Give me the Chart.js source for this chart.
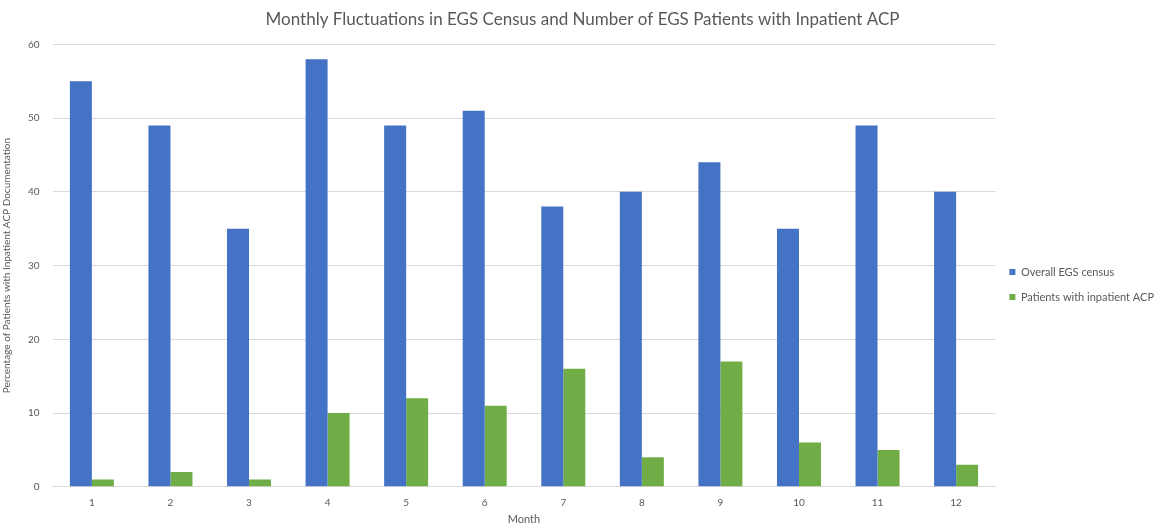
<!DOCTYPE html>
<html><head><meta charset="utf-8">
<script src="https://cdn.jsdelivr.net/npm/chart.js@4"></script>
<style>html,body{margin:0;padding:0;background:#fff}#w{width:1170px;height:529px}</style>
</head><body><div id="w"><canvas id="c"></canvas></div>
<script>
const months = ['1','2','3','4','5','6','7','8','9','10','11','12'];
const overallCensus = [55,49,35,58,49,51,38,40,44,35,49,40];
const inpatientACP = [1,2,1,10,12,11,16,4,17,6,5,3];
const seriesNames = ['Overall EGS census','Patients with inpatient ACP'];
const titleText = 'Monthly Fluctuations in EGS Census and Number of EGS Patients with Inpatient ACP';
const F = 'Lato, "Open Sans", sans-serif';
new Chart(document.getElementById('c'), {
  type: 'bar',
  data: { labels: months, datasets: [
    {label: seriesNames[0], data: overallCensus, backgroundColor: '#4472C4', categoryPercentage: 0.56, barPercentage: 1},
    {label: seriesNames[1], data: inpatientACP, backgroundColor: '#70AD47', categoryPercentage: 0.56, barPercentage: 1}
  ]},
  options: {
    responsive: true, maintainAspectRatio: false, animation: false,
    layout: {padding: {top: 5, left: 1, right: 6, bottom: 3}},
    plugins: {
      title: {display: true, text: titleText, color: '#595959', font: {family: F, size: 17, weight: 'normal'}, padding: {top: 4, bottom: 15}},
      legend: {position: 'right',
        title: {display: true, text: ' ', font: {size: 20}, padding: {top: 10, bottom: 4}},
        labels: {boxWidth: 6, boxHeight: 6, color: '#595959', font: {family: F, size: 11}, padding: 14}},
      tooltip: {enabled: false}
    },
    scales: {
      x: {grid: {display: false}, border: {color: '#d9d9d9'}, ticks: {color: '#595959', font: {family: F, size: 10}, padding: 2},
          title: {display: true, text: 'Month', color: '#595959', font: {family: F, size: 11}, padding: {top: 2, bottom: 0}}},
      y: {min: 0, max: 60, ticks: {stepSize: 10, color: '#595959', font: {family: F, size: 10}, padding: 13},
          grid: {color: '#d9d9d9', drawTicks: false}, border: {display: false},
          title: {display: true, text: 'Percentage of Patients with Inpatient ACP Documentation', color: '#595959', font: {family: F, size: 10}, padding: {top: 0, bottom: 2}}}
    }
  }
});
</script></body></html>
